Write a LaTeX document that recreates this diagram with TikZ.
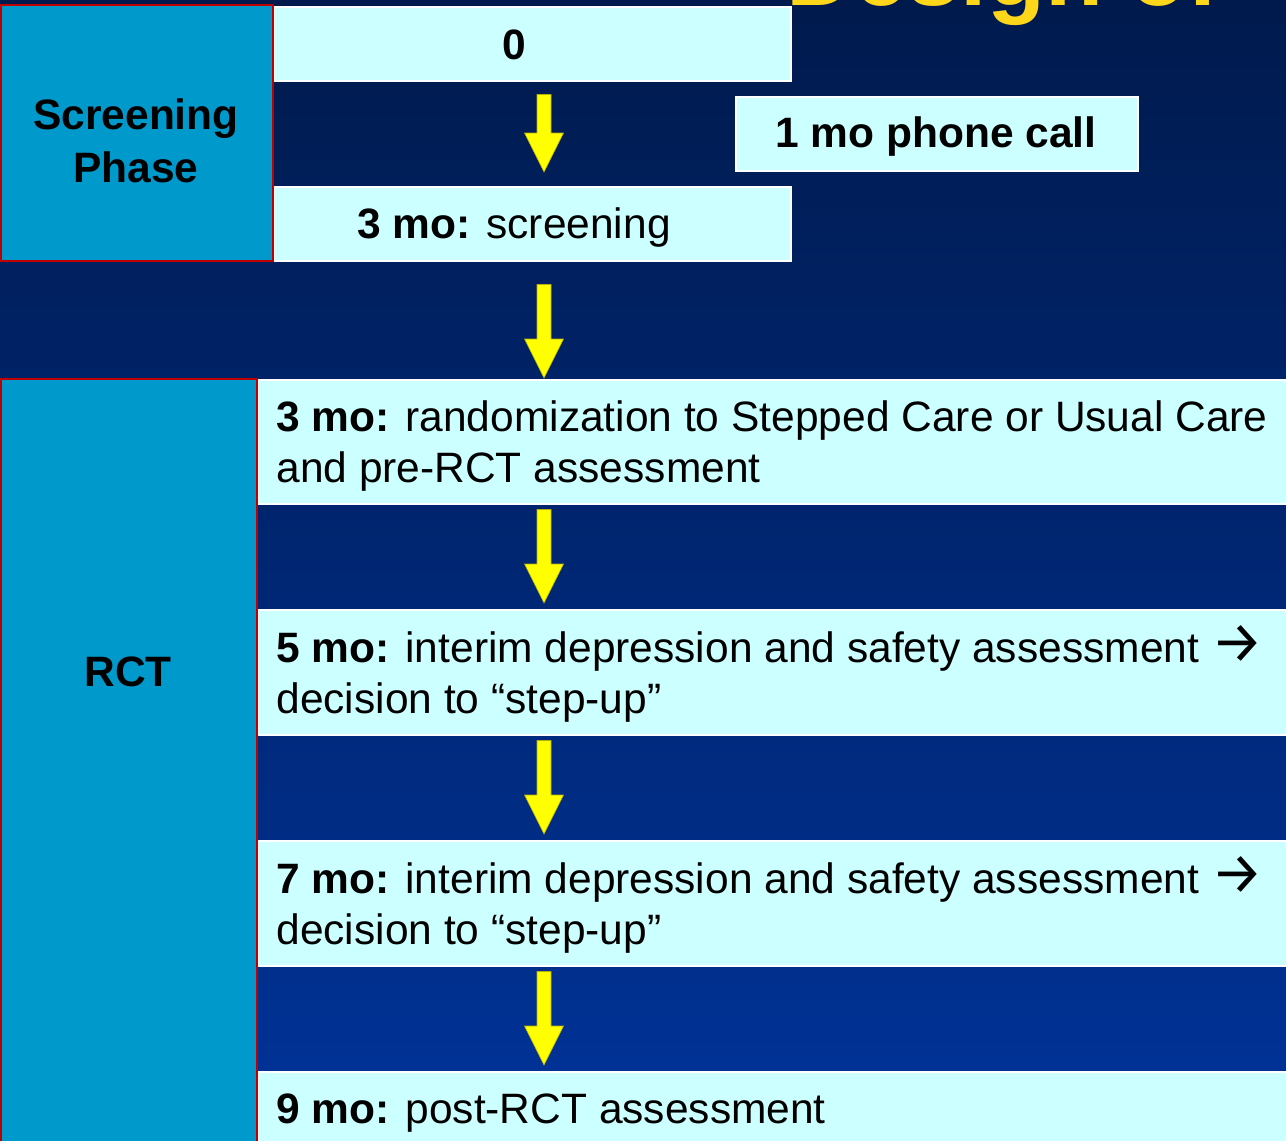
\documentclass[tikz,border=0pt]{standalone}
\usepackage{fontspec}
\setmainfont{Liberation Sans}
\newfontfamily\arrowfont{Fira Sans}
\usetikzlibrary{calc}
\definecolor{bgtop}{HTML}{001A4D}
\definecolor{bgbot}{HTML}{003399}
\definecolor{lightbox}{HTML}{CCFFFF}
\definecolor{phasebox}{HTML}{0099CC}
\definecolor{phaseborder}{HTML}{C00000}
\definecolor{titleyellow}{HTML}{FFD71A}
\definecolor{arrowyellow}{HTML}{FFFF00}
\definecolor{arrowedge}{HTML}{B8AE00}
\newcommand\rarr{{\arrowfont\fontsize{29pt}{25.5pt}\selectfont →}}
\tikzset{
  lbox/.style={rectangle, anchor=north west, inner sep=0pt, fill=lightbox, draw=white, line width=0.75pt},
  phbox/.style={rectangle, anchor=north west, inner sep=0pt, fill=phasebox, draw=phaseborder, line width=1pt},
  txt/.style={inner sep=0pt, text=black, font=\fontsize{21.25pt}{25.5pt}\selectfont},
  btxt/.style={txt, font=\fontsize{21.25pt}{26.5pt}\selectfont\bfseries},
  rowtxt/.style={txt, text width=520pt, align=flush left, anchor=base west},
  yarrow/.style={fill=arrowyellow, draw=arrowedge, line width=0.3pt},
}
\newcommand\blockarrow[4]{%
  \filldraw[yarrow] let \p1=($(#1.south -| ax)+(0,-#3)$), \p2=($(#2.north -| ax)+(0,#4)$) in
    (\x1-3.5pt,\y1) -- (\x1+3.5pt,\y1) -- (\x1+3.5pt,\y2+19.5pt) -- (\x1+9.75pt,\y2+19.5pt)
    -- (\x1,\y2) -- (\x1-9.75pt,\y2+19.5pt) -- (\x1-3.5pt,\y2+19.5pt) -- cycle;}
\begin{document}
\begin{tikzpicture}[x=0.5pt,y=-0.5pt]
\useasboundingbox (0,0) rectangle (1286,1141);
\shade[top color=bgtop, bottom color=bgbot] (0,0) rectangle (1286,1141);
% title (cut off at the top, as in the reference)
\node[inner sep=0pt, anchor=base west, text=titleyellow, font=\fontsize{47.5pt}{50pt}\selectfont\bfseries] (title) at (786,5) {Design of};
\coordinate (ax) at (544,0);
% light boxes
\node[lbox, minimum width=258.5pt, minimum height=37pt] (zero) at (273,6) {};
\node[lbox, minimum width=258.5pt, minimum height=37pt] (scr3) at (273,186) {};
\node[lbox, minimum width=201pt, minimum height=37pt] (phone) at (735,96) {};
\node[lbox, minimum width=516.5pt, minimum height=62pt] (rand) at (257,379) {};
\node[lbox, minimum width=516.5pt, minimum height=62.5pt] (m5) at (257,609) {};
\node[lbox, minimum width=516.5pt, minimum height=62.5pt] (m7) at (257,840) {};
\node[lbox, minimum width=516.5pt, minimum height=37pt] (m9) at (257,1071) {};
% phase boxes
\node[phbox, minimum width=136pt, minimum height=128pt] (scrph) at (0,4) {};
\node[phbox, minimum width=128pt, minimum height=383.5pt] (rctph) at (0,378) {};
% texts
\node[btxt, anchor=base] (tzero) at (514,59) {0};
\node[txt, anchor=base] (tscr3) at (514,238) {\textbf{3 mo:} screening};
\node[btxt, anchor=base] (tphone) at (936,147) {1 mo phone call};
\node[btxt, text width=136pt, align=center, anchor=base] (tscrph) at (136,129) {Screening\\Phase};
\node[btxt, anchor=base] (trct) at (128,686) {RCT};
\node[rowtxt] (trand) at (276,431) {\textbf{3 mo:} randomization to Stepped Care or Usual Care\\and pre-RCT assessment};
\node[rowtxt] (tm5) at (276,662) {\textbf{5 mo:} interim depression and safety assessment \rarr\\decision to “step-up”};
\node[rowtxt] (tm7) at (276,893) {\textbf{7 mo:} interim depression and safety assessment \rarr\\decision to “step-up”};
\node[rowtxt] (tm9) at (276,1123) {\textbf{9 mo:} post-RCT assessment};
% arrows
\blockarrow{zero}{scr3}{6.5pt}{7pt}
\blockarrow{scr3}{rand}{11.5pt}{0.5pt}
\blockarrow{rand}{m5}{2.5pt}{3pt}
\blockarrow{m5}{m7}{2.5pt}{3pt}
\blockarrow{m7}{m9}{2.5pt}{3pt}
\end{tikzpicture}
\end{document}
